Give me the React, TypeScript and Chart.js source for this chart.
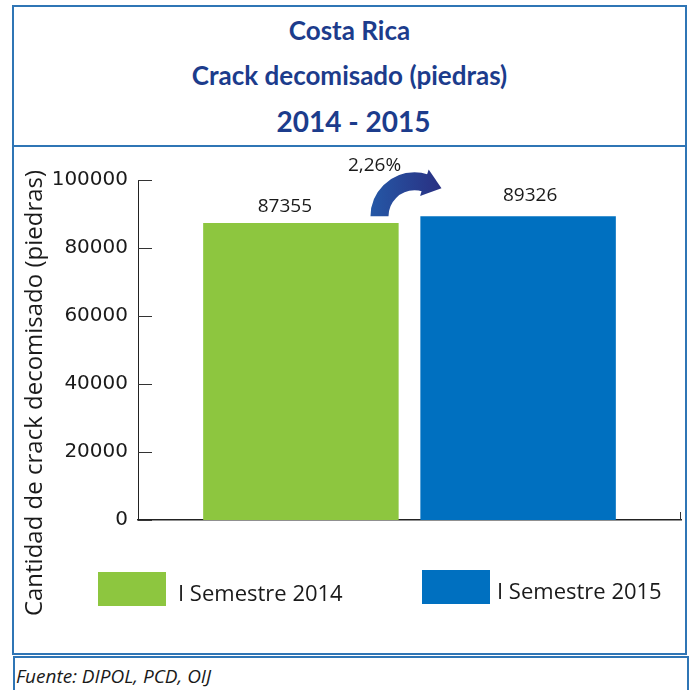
import React, { useEffect, useRef } from 'react';
import { Chart, registerables } from 'chart.js';

Chart.register(...registerables);

// ---- data ----
const categories = ['I Semestre'];
const seriesNames = ['I Semestre 2014', 'I Semestre 2015'];
const values2014 = [87355];
const values2015 = [89326];
const yTickValues = [0, 20000, 40000, 60000, 80000, 100000];
const changeLabel = '2,26%';
const titleLines = ['Costa Rica', 'Crack decomisado (piedras)', '2014 - 2015'];
const yAxisTitle = 'Cantidad de crack decomisado (piedras)';
const sourceNote = 'Fuente: DIPOL, PCD, OIJ';

// ---- styles ----
const seriesColors = ['#8DC63F', '#0070C0'];
const frameBlue = '#2F75B5';
const titleColor = '#1C3C8C';
const textColor = '#1a1a1a';
const valueLabelShift = [
  { dx: -16, dy: -16 },
  { dx: 12, dy: -21 },
];

const decorPlugin = {
  id: 'decor',
  afterDatasetsDraw(chart: any) {
    const ctx = chart.ctx as CanvasRenderingContext2D;
    const { left, right, bottom } = chart.chartArea;
    const y = chart.scales.y;
    ctx.save();
    // inward tick marks on y axis
    ctx.strokeStyle = '#333';
    ctx.lineWidth = 1;
    y.ticks.forEach((_t: any, i: number) => {
      const py = Math.round(y.getPixelForTick(i)) + 0.5;
      ctx.beginPath();
      ctx.moveTo(left, py);
      ctx.lineTo(left + 14, py);
      ctx.stroke();
    });
    // end tick on x axis
    ctx.beginPath();
    ctx.moveTo(right - 0.5, bottom);
    ctx.lineTo(right - 0.5, bottom - 8);
    ctx.stroke();

    // value labels
    ctx.font = '19px "Open Sans"';
    ctx.fillStyle = textColor;
    ctx.textAlign = 'center';
    ctx.textBaseline = 'middle';
    chart.data.datasets.forEach((ds: any, di: number) => {
      const meta = chart.getDatasetMeta(di);
      meta.data.forEach((bar: any, i: number) => {
        ctx.fillText(String(ds.data[i]), bar.x + valueLabelShift[di].dx, bar.y + valueLabelShift[di].dy);
      });
    });

    // curved change arrow
    const b0 = chart.getDatasetMeta(0).data[0];
    const b1 = chart.getDatasetMeta(1).data[0];
    const gRight = b0.x + b0.width / 2;
    const bLeft = b1.x - b1.width / 2;
    const cx = (gRight + bLeft) / 2 + 5;
    const cy = b1.y;
    const r = 35;
    const endA = Math.PI * 1.6;
    const grad = ctx.createLinearGradient(cx - r - 9, 0, cx + r, 0);
    grad.addColorStop(0, '#2558A6');
    grad.addColorStop(1, '#2A2B7E');
    ctx.strokeStyle = grad;
    ctx.fillStyle = grad;
    ctx.lineWidth = 18;
    ctx.lineCap = 'butt';
    ctx.beginPath();
    ctx.arc(cx, cy, r, Math.PI, endA, false);
    ctx.stroke();
    const ex = cx + r * Math.cos(endA);
    const ey = cy + r * Math.sin(endA);
    const dx = -Math.sin(endA);
    const dy = Math.cos(endA);
    const nx = -dy;
    const ny = dx;
    ctx.beginPath();
    ctx.moveTo(ex - dx + nx * 14, ey - dy + ny * 14);
    ctx.lineTo(ex + dx * 17, ey + dy * 17);
    ctx.lineTo(ex - dx - nx * 14, ey - dy - ny * 14);
    ctx.closePath();
    ctx.fill();

    ctx.fillStyle = textColor;
    ctx.font = '19px "Open Sans"';
    ctx.fillText(changeLabel, cx - 40, cy - 51);

    // y axis title
    ctx.save();
    ctx.translate(21, 246);
    ctx.rotate(-Math.PI / 2);
    ctx.font = '24px "Open Sans"';
    ctx.fillStyle = textColor;
    ctx.textAlign = 'center';
    ctx.textBaseline = 'middle';
    ctx.fillText(yAxisTitle, 0, 0);
    ctx.restore();

    ctx.restore();
  },
};

function BarChart() {
  const ref = useRef<HTMLCanvasElement | null>(null);
  useEffect(() => {
    if (!ref.current) return;
    const chart = new Chart(ref.current, {
      type: 'bar',
      data: {
        labels: categories,
        datasets: [
          { label: seriesNames[0], data: values2014, backgroundColor: seriesColors[0], borderWidth: 0 },
          { label: seriesNames[1], data: values2015, backgroundColor: seriesColors[1], borderWidth: 0 },
        ],
      },
      options: {
        animation: false,
        responsive: false,
        maintainAspectRatio: false,
        layout: { padding: { left: 0, right: 4, top: 33, bottom: 133 } },
        plugins: { legend: { display: false }, tooltip: { enabled: false }, title: { display: false } },
        scales: {
          x: {
            type: 'category',
            grid: { display: false, drawTicks: false },
            ticks: { display: false },
            border: { display: true, color: '#222', width: 1.5 },
            afterFit: (s: any) => { s.height = 0; },
          },
          y: {
            min: 0,
            max: 100000,
            afterBuildTicks: (s: any) => { s.ticks = yTickValues.map((v) => ({ value: v })); },
            grid: { display: false, drawTicks: false },
            border: { display: true, color: '#222', width: 1 },
            ticks: {
              color: textColor,
              padding: 10,
              font: { family: '"DejaVu Sans"', size: 20 },
              callback: (v: any) => String(v),
            },
            afterFit: (s: any) => { s.width = 124; },
          },
        },
      },
      plugins: [decorPlugin],
    } as any);
    return () => chart.destroy();
  }, []);
  return <canvas ref={ref} width={671} height={506} style={{ position: 'absolute', left: 14, top: 147, width: 671, height: 506 }} />;
}

const titleStyles = [
  { top: 30, size: 26, shift: 0 },
  { top: 75, size: 26, shift: 0 },
  { top: 121, size: 28, shift: 4 },
];

const legendLayout = [
  { boxLeft: 98, boxTop: 572, textLeft: 178, textMid: 592 },
  { boxLeft: 422, boxTop: 570, textLeft: 497, textMid: 590 },
];

export default function App() {
  return (
    <div style={{ position: 'fixed', left: 0, top: 0, width: 692, height: 690, background: '#fff', overflow: 'hidden' }}>
      <div style={{ position: 'absolute', left: 12, top: 5, width: 675, height: 650, boxSizing: 'border-box', border: `2px solid ${frameBlue}` }} />
      <div style={{ position: 'absolute', left: 12, top: 145, width: 675, height: 2, background: frameBlue }} />
      <div style={{ position: 'absolute', left: 13, top: 656, width: 676, height: 50, boxSizing: 'border-box', border: `2px solid ${frameBlue}` }} />
      {titleLines.map((t, i) => (
        <div key={i} style={{ position: 'absolute', left: 12 + titleStyles[i].shift, width: 675, top: titleStyles[i].top - 20, height: 40, lineHeight: '40px', textAlign: 'center', fontFamily: 'Lato', fontWeight: 700, fontSize: titleStyles[i].size, color: titleColor }}>{t}</div>
      ))}
      <BarChart />
      {seriesNames.map((n, i) => (
        <React.Fragment key={n}>
          <div style={{ position: 'absolute', left: legendLayout[i].boxLeft, top: legendLayout[i].boxTop, width: 68, height: 34, background: seriesColors[i] }} />
          <div style={{ position: 'absolute', left: legendLayout[i].textLeft, top: legendLayout[i].textMid - 15, height: 30, lineHeight: '30px', fontFamily: '"Open Sans"', fontSize: 22, color: textColor, whiteSpace: 'nowrap' }}>{n}</div>
        </React.Fragment>
      ))}
      <div style={{ position: 'absolute', left: 16, top: 664, height: 24, lineHeight: '24px', fontFamily: '"Open Sans"', fontStyle: 'italic', fontSize: 19, color: textColor, whiteSpace: 'nowrap' }}>{sourceNote}</div>
    </div>
  );
}
